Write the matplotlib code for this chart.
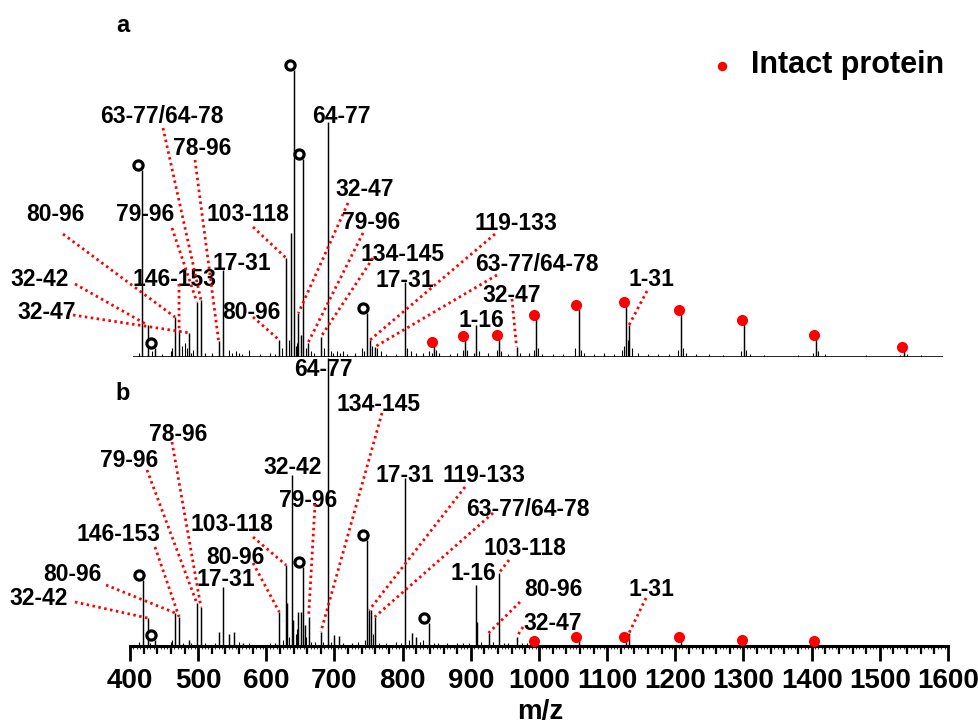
import matplotlib
matplotlib.use("Agg")
import matplotlib.pyplot as plt
from matplotlib.lines import Line2D
from matplotlib.transforms import IdentityTransform
from matplotlib.ticker import MultipleLocator, NullFormatter

plt.rcParams['font.family'] = ['Liberation Sans', 'DejaVu Sans']
plt.rcParams['font.weight'] = 'bold'

W, H = 979, 726          # figure size in pixels (dpi 100)
RED = '#ff0000'

# ---------------- panel a: top-down fragment spectrum ----------------
a_mz = [418, 426, 437, 466, 472, 487, 498, 504, 530, 537, 619, 629, 636, 641,
        647, 651, 654, 661, 680, 690, 748, 752, 759, 803, 907, 967, 1132]
a_int = [65.2, 11.1, 3.1, 13.9, 9.4, 8.4, 19.2, 19.9, 5.6, 30.3, 5.9, 34.5, 43.2, 100,
         15.3, 7.7, 69.0, 4.9, 7.0, 81.9, 15.3, 5.9, 3.5, 26.1, 11.1, 3.5, 11.1]
# charge-state envelope of the intact protein
a_intact_mz = [846, 891, 941, 996, 1058, 1128, 1208, 1301, 1407, 1536]
a_intact_int = [3.8, 5.9, 6.3, 13.2, 16.7, 17.8, 15.0, 11.5, 6.3, 2.1]
# peaks flagged with open circles
a_circle_mz = [418, 437, 641, 654, 748]
# low-level signals / shoulders
a_noise_mz = [413, 432, 447, 460, 462, 476, 480, 483, 490, 493, 510, 520, 545, 550,
              555, 560, 565, 575, 590, 605, 612, 623, 633, 643, 645, 658, 665, 670,
              685, 695, 698, 703, 708, 712, 718, 730, 740, 744, 755, 762, 768, 775,
              790, 806, 812, 820, 830, 838, 843, 849, 853, 870, 880, 888, 894, 905,
              912, 925, 938, 944, 955, 972, 985, 993, 999, 1005, 1020, 1035, 1053,
              1061, 1066, 1080, 1095, 1110, 1122, 1125, 1130, 1136, 1145, 1160, 1175,
              1190, 1204, 1211, 1216, 1230, 1250, 1270, 1296, 1304, 1310, 1330, 1380,
              1402, 1410, 1420, 1480, 1530, 1540, 1560]
a_noise_int = [1.5, 2.0, 1.0, 2.0, 3.0, 4.0, 5.0, 3.0, 1.5, 2.5, 1.5, 1.5, 2.5, 1.5,
               2.0, 1.5, 1.2, 2.5, 1.0, 1.5, 1.2, 3.0, 6.0, 4.0, 5.0, 3.0, 2.0, 1.5,
               3.0, 2.0, 1.5, 2.0, 1.5, 2.0, 1.0, 1.5, 3.0, 2.0, 4.0, 3.0, 2.0, 1.2,
               1.0, 3.0, 2.0, 1.5, 1.5, 2.0, 1.5, 2.5, 1.5, 1.2, 1.5, 2.5, 2.5, 1.5,
               2.0, 1.5, 2.5, 2.0, 1.2, 1.5, 1.5, 2.5, 3.0, 1.2, 1.0, 1.2, 3.0,
               2.5, 1.5, 1.2, 1.5, 1.2, 2.5, 4.0, 6.0, 3.0, 1.5, 1.2, 1.0,
               1.2, 2.5, 3.0, 1.5, 1.2, 1.0, 0.8, 2.0, 2.5, 1.2, 0.8, 0.6,
               1.5, 2.0, 1.0, 0.6, 0.8, 1.2, 0.6]

# ---------------- panel b ----------------
b_mz = [419, 426, 437, 466, 472, 487, 498, 504, 530, 537, 545, 553, 566, 619, 629,
        631, 637, 639, 647, 651, 654, 656, 662, 680, 690, 700, 706, 748, 751, 754,
        759, 803, 814, 820, 838, 907, 909, 926, 941, 967, 1132]
b_int = [22.9, 9.7, 2.1, 11.5, 10.1, 2.1, 14.9, 13.5, 4.9, 20.5, 4.2, 4.9, 1.0, 11.8, 28.1,
         14.9, 59.4, 9.0, 11.8, 11.8, 27.4, 7.3, 10.1, 4.9, 100, 3.8, 3.5, 36.8, 12.5, 12.5,
         10.1, 58.3, 4.5, 3.1, 8.0, 21.2, 8.3, 4.5, 25.3, 3.1, 4.5]
b_intact_mz = [996, 1058, 1128, 1208, 1301, 1407]
b_intact_int = [0.6, 1.7, 1.7, 1.7, 0.7, 0.6]
b_circle_mz = [419, 437, 654, 748, 838]
b_noise_mz = [413, 430, 460, 462, 478, 490, 510, 525, 560, 575, 605, 612, 624, 633,
              643, 645, 658, 666, 672, 683, 695, 712, 725, 735, 745, 757, 765, 775,
              790, 798, 810, 825, 830, 846, 852, 865, 880, 889, 897, 915, 933, 948,
              955, 975, 982]
b_noise_int = [1.5, 1.0, 1.5, 2.0, 1.0, 1.0, 1.0, 1.0, 1.5, 1.0, 1.0, 1.0, 2.0, 3.0,
               4.0, 6.0, 3.0, 1.5, 1.5, 1.5, 1.5, 1.0, 1.0, 1.5, 2.0, 4.0, 1.0, 1.0,
               1.5, 1.0, 2.0, 1.5, 2.0, 1.0, 1.0, 1.0, 1.0, 1.0, 1.0, 1.5, 1.5, 1.0,
               1.0, 1.0, 1.0]

# fragment labels: (text, assigned peak m/z or None, label centre px, leader start px)
a_labels = [
    ("80-96",        466, (55, 213), (63, 234)),
    ("32-42",        426, (40, 278), (75, 284)),
    ("32-47",        487, (47, 311), (73, 315)),
    ("146-153",      472, (175, 278), (179, 284)),
    ("79-96",        498, (145, 213), (172, 228)),
    ("63-77/64-78",  504, (162, 115), (163, 128)),
    ("78-96",        530, (202, 147), (195, 160)),
    ("103-118",      629, (248, 213), (253, 227)),
    ("17-31",        None, (242, 262), None),
    ("80-96",        619, (251, 311), (253, 317)),
    ("64-77",        None, (341, 115), None),
    ("32-47",        647, (365, 188), (348, 203)),
    ("79-96",        661, (371, 221), (363, 233)),
    ("134-145",      680, (403, 253), (373, 258)),
    ("17-31",        None, (405, 279), None),
    ("119-133",      752, (516, 222), (495, 234)),
    ("63-77/64-78",  759, (537, 263), (497, 275)),
    ("32-47",        967, (512, 294), (512, 299)),
    ("1-16",         None, (481, 319), None),
    ("1-31",         1132, (651, 278), (647, 291)),
]
b_labels = [
    ("32-42",        426, (39, 597), (75, 602)),
    ("80-96",        466, (72, 573), (106, 585)),
    ("146-153",      472, (118, 533), (155, 547)),
    ("79-96",        498, (129, 459), (147, 470)),
    ("78-96",        504, (178, 433), (172, 442)),
    ("103-118",      629, (232, 523), (253, 537)),
    ("80-96",        619, (235, 556), (253, 563)),
    ("17-31",        None, (226, 578), None),
    ("32-42",        None, (293, 466), None),
    ("79-96",        662, (308, 499), (315, 504)),
    ("134-145",      680, (379, 403), (382, 413)),
    ("64-77",        None, (323, 368), None),
    ("17-31",        None, (405, 474), None),
    ("119-133",      751, (484, 474), (465, 487)),
    ("63-77/64-78",  759, (528, 508), (493, 513)),
    ("103-118",      941, (525, 547), (509, 560)),
    ("1-16",         None, (473, 572), None),
    ("80-96",        926, (553, 588), (520, 602)),
    ("32-47",        967, (553, 622), (523, 627)),
    ("1-31",         1132, (651, 588), (646, 598)),
]

fig = plt.figure(figsize=(W / 100, H / 100), dpi=100)
ax_a = fig.add_axes([130 / W, (H - 357) / H, 818 / W, 337 / H])
ax_b = fig.add_axes([130 / W, (H - 646) / H, 818 / W, 289 / H])
ax_a.set_ylim(0, 337 / 2.87)
ax_b.set_ylim(0, 289 / 2.88)
for ax in (ax_a, ax_b):
    ax.set_xlim(400, 1600)
    ax.set_facecolor('none')
    for side in ('left', 'right', 'top'):
        ax.spines[side].set_visible(False)

ax_a.spines['bottom'].set_visible(False)
ax_a.set_xticks([])
ax_a.set_yticks([])
ax_a.hlines(0, 404, 1592, color='black', lw=1.2)

ax_b.set_yticks([])
ax_b.spines['bottom'].set_linewidth(2.2)
ax_b.xaxis.set_major_locator(MultipleLocator(100))
ax_b.xaxis.set_minor_locator(MultipleLocator(20))
ax_b.tick_params(axis='x', which='major', length=11, width=2.0, pad=5,
                 labelsize=20, direction='out')
ax_b.tick_params(axis='x', which='minor', length=5.5, width=1.6, direction='out')
for t in ax_b.get_xticklabels():
    t.set_fontweight('bold')
fine = ax_b.secondary_xaxis('bottom')
fine.spines['bottom'].set_visible(False)
fine.xaxis.set_major_locator(MultipleLocator(5))
fine.xaxis.set_major_formatter(NullFormatter())
fine.tick_params(axis='x', which='major', length=2.2, width=0.8, color='#333333')
fine.xaxis.set_minor_locator(MultipleLocator(1000))

fig.text(540 / W, 1 - 719 / H, "m/z", ha='center', va='baseline',
         fontsize=20, fontweight='bold')


def draw_panel(ax, mz, inten, imz, iint, cmz, nmz, nint):
    peaks = dict(zip(mz + imz, inten + iint))
    ax.vlines(nmz, 0, nint, color='black', lw=0.8)
    ax.vlines(mz + imz, 0, inten + iint, color='black', lw=1.05)
    ax.plot([m - 3 for m in imz], [v + 1.3 for v in iint], 'o', color=RED,
            ms=7, mec=RED, clip_on=False, zorder=5)
    ax.plot([m - 6 for m in cmz], [peaks[m] + 1.8 for m in cmz], 'o', ms=6.6,
            mfc='white', mec='black', mew=2.3, clip_on=False, zorder=5)
    return peaks


def draw_labels(ax, peaks, labels):
    fs = 16.5
    cap = 0.716 * fs * 100 / 72
    for text, target, (x, y), start in labels:
        ax.annotate(text, xy=(x, H - y - cap / 2), xycoords='figure pixels',
                    ha='center', va='baseline', fontsize=fs, fontweight='bold',
                    zorder=6, annotation_clip=False)
        if target is not None:
            ex, ey = ax.transData.transform((target, peaks[target]))
            fig.add_artist(Line2D([start[0], ex], [H - start[1], ey],
                                  transform=IdentityTransform(), color=RED,
                                  lw=2.0, dashes=(0.9, 1.25),
                                  dash_capstyle='butt', zorder=4))


pk_a = draw_panel(ax_a, a_mz, a_int, a_intact_mz, a_intact_int, a_circle_mz,
                  a_noise_mz, a_noise_int)
pk_b = draw_panel(ax_b, b_mz, b_int, b_intact_mz, b_intact_int, b_circle_mz,
                  b_noise_mz, b_noise_int)
draw_labels(ax_a, pk_a, a_labels)
draw_labels(ax_b, pk_b, b_labels)

# panel letters
fig.text(123 / W, 1 - 32 / H, "a", ha='center', va='baseline', fontsize=17, fontweight='bold')
fig.text(123 / W, 1 - 400 / H, "b", ha='center', va='baseline', fontsize=17, fontweight='bold')

# legend for the intact-protein marker
fig.add_artist(Line2D([721.5 / W], [1 - 66 / H], marker='o', color=RED, ms=5.8,
                      mec=RED, linestyle='none'))
fig.text(751 / W, 1 - 73 / H, "Intact protein", ha='left', va='baseline',
         fontsize=22, fontweight='bold')

fig.savefig("out.png", dpi=100)
